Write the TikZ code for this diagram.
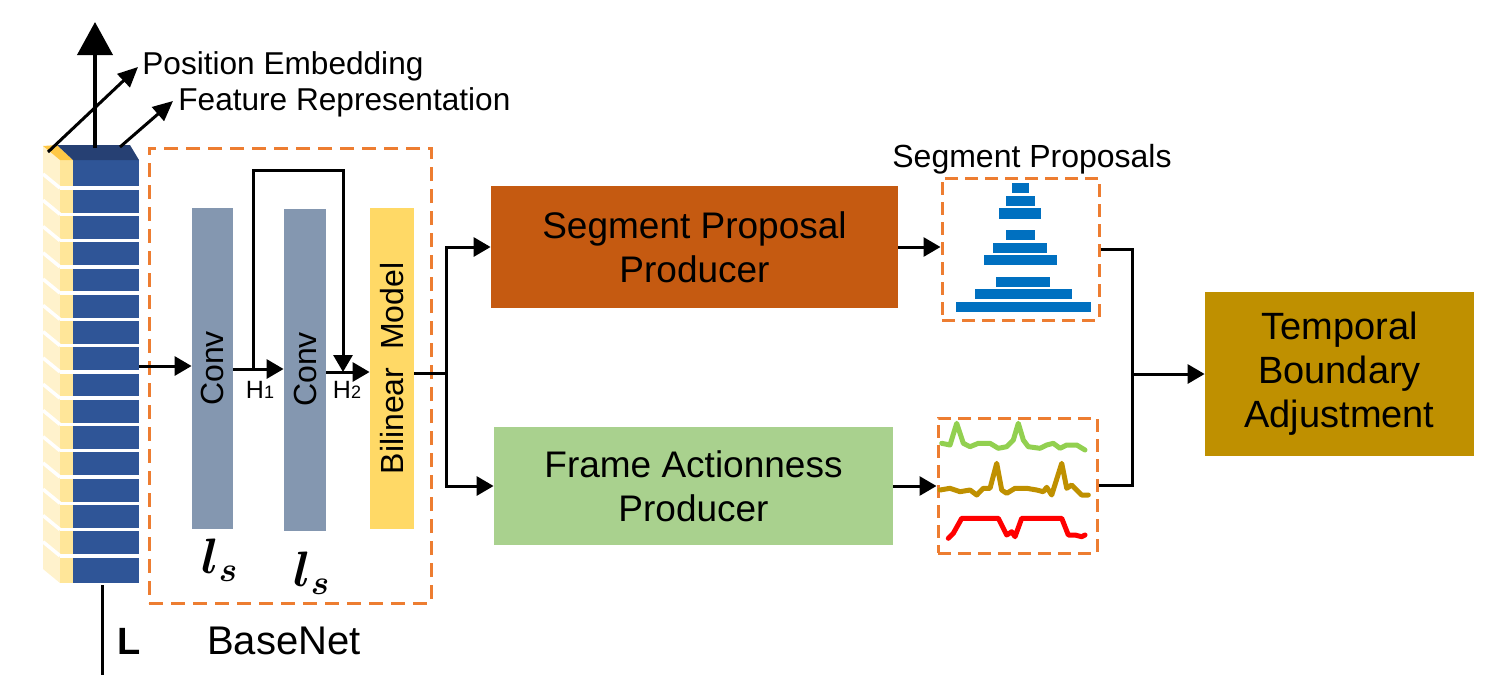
\documentclass[tikz,border=0pt]{standalone}
\usepackage{fontspec}
\setmainfont{Liberation Sans}
\usepackage{bm}
\usetikzlibrary{arrows.meta}
\definecolor{convc}{RGB}{132,151,176}
\definecolor{bilc}{RGB}{255,217,102}
\definecolor{sppc}{RGB}{197,90,17}
\definecolor{fapc}{RGB}{169,209,142}
\definecolor{tbac}{RGB}{191,144,0}
\definecolor{dorange}{RGB}{237,125,49}
\definecolor{segblue}{RGB}{0,112,192}
\definecolor{stackblue}{RGB}{47,85,151}
\definecolor{stacktopc}{RGB}{38,64,115}
\definecolor{sideyel}{RGB}{255,242,204}
\definecolor{stripyel}{RGB}{255,230,153}
\definecolor{topgold}{RGB}{255,200,70}
\definecolor{cgreen}{RGB}{146,208,80}
\definecolor{cmust}{RGB}{191,144,0}
\begin{document}
\begin{tikzpicture}[x=0.5pt,y=-0.5pt,
  box/.style={rectangle, inner sep=0pt, align=center},
  dbox/.style={rectangle, inner sep=0pt, draw=dorange, line width=1.5pt, dash pattern=on 7pt off 4pt},
  arr/.style={line width=1.5pt, -{Triangle[length=8.5pt,width=9.5pt]}},
  ln/.style={line width=1.5pt},
  bigtxt/.style={font=\fontsize{18.5}{22}\selectfont},
  curve/.style={line width=2.5pt, line join=round, line cap=round},
  bar/.style={fill=segblue, draw=none}
]
\useasboundingbox (0,0) rectangle (1507,691);

% ---------------- stacked feature column ----------------
\fill[sideyel] (43,146) -- (60,160) -- (60,583) -- (43,569) -- cycle;
\fill[stripyel] (60,160) rectangle (73,583);
\node[box, fill=stackblue, minimum width=33pt, minimum height=211.5pt] (stack) at (106,371.5) {};
\fill[topgold] (43,146) -- (57,145) -- (73,160) -- (60,160) -- cycle;
\fill[stacktopc] (57,145) -- (130,145) -- (139,160) -- (73,160) -- cycle;
\foreach \i in {0,...,14}{
  \pgfmathsetmacro{\gy}{188+\i*26.27}
  \draw[white, line width=1.75pt] (60,\gy) -- (139,\gy);
  \draw[white, line width=1.75pt] (43,\gy-14) -- (60,\gy);
}

% arrows from the top of the column
\coordinate (topc) at (95,148);
\coordinate (topup) at (95,22);
\draw[line width=2pt, -{Triangle[length=16.5pt,width=17.5pt]}] (topc) -- (topup);
\coordinate (peA) at (48,152);
\coordinate (peB) at (138,67);
\draw[line width=1.5pt, -{Triangle[length=10pt,width=9pt]}] (peA) -- (peB);
\coordinate (frA) at (120,147);
\coordinate (frB) at (173,101);
\draw[line width=1.5pt, -{Triangle[length=10pt,width=9pt]}] (frA) -- (frB);
\node[anchor=base west, inner sep=0pt, font=\fontsize{15.8}{18}\selectfont] (pe) at (142,74) {Position Embedding};
\node[anchor=base west, inner sep=0pt, font=\fontsize{15.8}{18}\selectfont] (fr) at (178,110) {Feature Representation};

% L axis
\coordinate (lA) at (102,585);
\coordinate (lB) at (102,675);
\draw[ln] (lA) -- (lB);
\node[font=\fontsize{19}{22}\selectfont\bfseries] (L) at (129,641) {L};

% ---------------- BaseNet ----------------
\node[dbox, minimum width=141pt, minimum height=227.5pt] (basenet) at (290,375.5) {};
\node[font=\fontsize{20}{24}\selectfont] (bnlabel) at (284,641) {BaseNet};

\node[box, fill=convc, minimum width=20.5pt, minimum height=160.5pt] (conv1) at (212.5,368.5)
  {\rotatebox{90}{\fontsize{16}{19}\selectfont Conv}};
\node[box, fill=convc, minimum width=21pt, minimum height=161pt] (conv2) at (305,369.5)
  {\rotatebox{90}{\fontsize{16}{19}\selectfont Conv}};
\node[box, fill=bilc, minimum width=22pt, minimum height=160.5pt] (bil) at (392,368.5)
  {\rotatebox{90}{\fontsize{16}{19}\selectfont Bilinear\ \ Model}};

\node[font=\fontsize{27}{31}\selectfont] (ls1) at (220,560) {$\bm{l_s}$};
\node[font=\fontsize{27}{31}\selectfont] (ls2) at (312,573) {$\bm{l_s}$};

\node[inner sep=0pt] (h1) at (260,390) {\fontsize{12.5}{14}\selectfont H{\fontsize{9}{10}\selectfont 1}};
\node[inner sep=0pt] (h2) at (347,390) {\fontsize{12.5}{14}\selectfont H{\fontsize{9}{10}\selectfont 2}};

\coordinate (y366) at (0,366);
\coordinate (y369) at (0,369);
\coordinate (y372) at (0,372);
\coordinate (y373) at (0,373);
\draw[arr] (stack.east |- y366) -- (conv1.west |- y366);
\draw[arr] (conv1.east |- y369) -- (conv2.west |- y369);
\draw[arr] (conv2.east |- y372) -- (bil.west |- y372);
\coordinate (skipA) at (253,369);
\coordinate (skipB) at (343,372);
\draw[arr] (skipA) -- (253,170) -- (343,170) -- (skipB);

% split to the two producers
\coordinate (split) at (446,373);
\draw[ln] (bil.east |- y373) -- (split);

\node[box, fill=sppc, minimum width=203.5pt, minimum height=61pt, bigtxt] (spp) at (694.5,247)
  {Segment Proposal\\Producer};
\node[box, fill=fapc, minimum width=199.5pt, minimum height=59pt, bigtxt] (fap) at (693.5,486)
  {Frame Actionness\\Producer};
\draw[arr] (split) |- (spp.west);
\draw[arr] (split) |- (fap.west);

% ---------------- segment proposals ----------------
\node[dbox, minimum width=78.5pt, minimum height=71pt, dash pattern=on 6.5pt off 3.5pt] (segbox) at (1020.5,249) {};
\node[anchor=base, inner sep=0pt, font=\fontsize{16}{19}\selectfont] (seglabel) at (1032,167) {Segment Proposals};
\fill[bar] (1012,183) rectangle (1029,193);
\fill[bar] (1006,196) rectangle (1035,206);
\fill[bar] (999,208) rectangle (1041,219);
\fill[bar] (1006,230) rectangle (1035,240);
\fill[bar] (993,243) rectangle (1047,253);
\fill[bar] (984,255) rectangle (1057,265);
\fill[bar] (996,277) rectangle (1050,287);
\fill[bar] (975,289) rectangle (1072,299);
\fill[bar] (956,302) rectangle (1091,312);
\draw[arr] (spp.east) -- (spp.east -| segbox.west);

% ---------------- actionness curves ----------------
\node[dbox, minimum width=79.5pt, minimum height=67.5pt, dash pattern=on 6.5pt off 3.5pt] (actbox) at (1017.5,485.5) {};
\draw[curve, cgreen] (941.7,443.3) -- (950,445) -- (956.7,423.3) -- (963.3,443.3) -- (970,446.7) -- (978.3,443.3) -- (990,443.3) -- (998.3,448.3) -- (1006.7,446.7) -- (1013.3,440) -- (1018.3,423.3) -- (1023.3,440) -- (1028.3,446.7) -- (1040,448.3) -- (1046.7,445) -- (1053.3,443.3) -- (1060,448.3) -- (1066.7,445) -- (1076.7,445) -- (1085,450);
\draw[curve, cmust] (940,490) -- (950,488.3) -- (960,491.7) -- (970,490) -- (976.7,495) -- (983.3,488.3) -- (990,488.3) -- (996.7,463.3) -- (1001.7,490) -- (1006.7,493.3) -- (1015,488.3) -- (1026.7,488.3) -- (1036.7,490) -- (1043.3,491.7) -- (1046.7,487.3) -- (1051.7,495) -- (1061.7,463.3) -- (1066.7,488.3) -- (1071.7,485) -- (1076.7,490) -- (1081.7,495) -- (1088.3,495);
\draw[curve, red] (948.3,538.3) -- (953.3,533.3) -- (961.7,518.3) -- (998.3,518.3) -- (1006.7,535) -- (1011.7,531.7) -- (1015,536.7) -- (1021.7,518.3) -- (1061.7,518.3) -- (1068.3,535) -- (1075,535) -- (1081.7,536.7) -- (1085,535);
\draw[arr] (fap.east) -- (fap.east -| actbox.west);

% ---------------- temporal boundary adjustment ----------------
\node[box, fill=tbac, minimum width=134.5pt, minimum height=82pt, font=\fontsize{19}{22}\selectfont] (tba) at (1339.5,374)
  {Temporal\\Boundary\\Adjustment};
\coordinate (mx) at (1132,374);
\draw[ln] (segbox.east) -| (mx);
\draw[ln] (actbox.east) -| (mx);
\draw[arr] (mx) -- (tba.west);
\end{tikzpicture}
\end{document}
